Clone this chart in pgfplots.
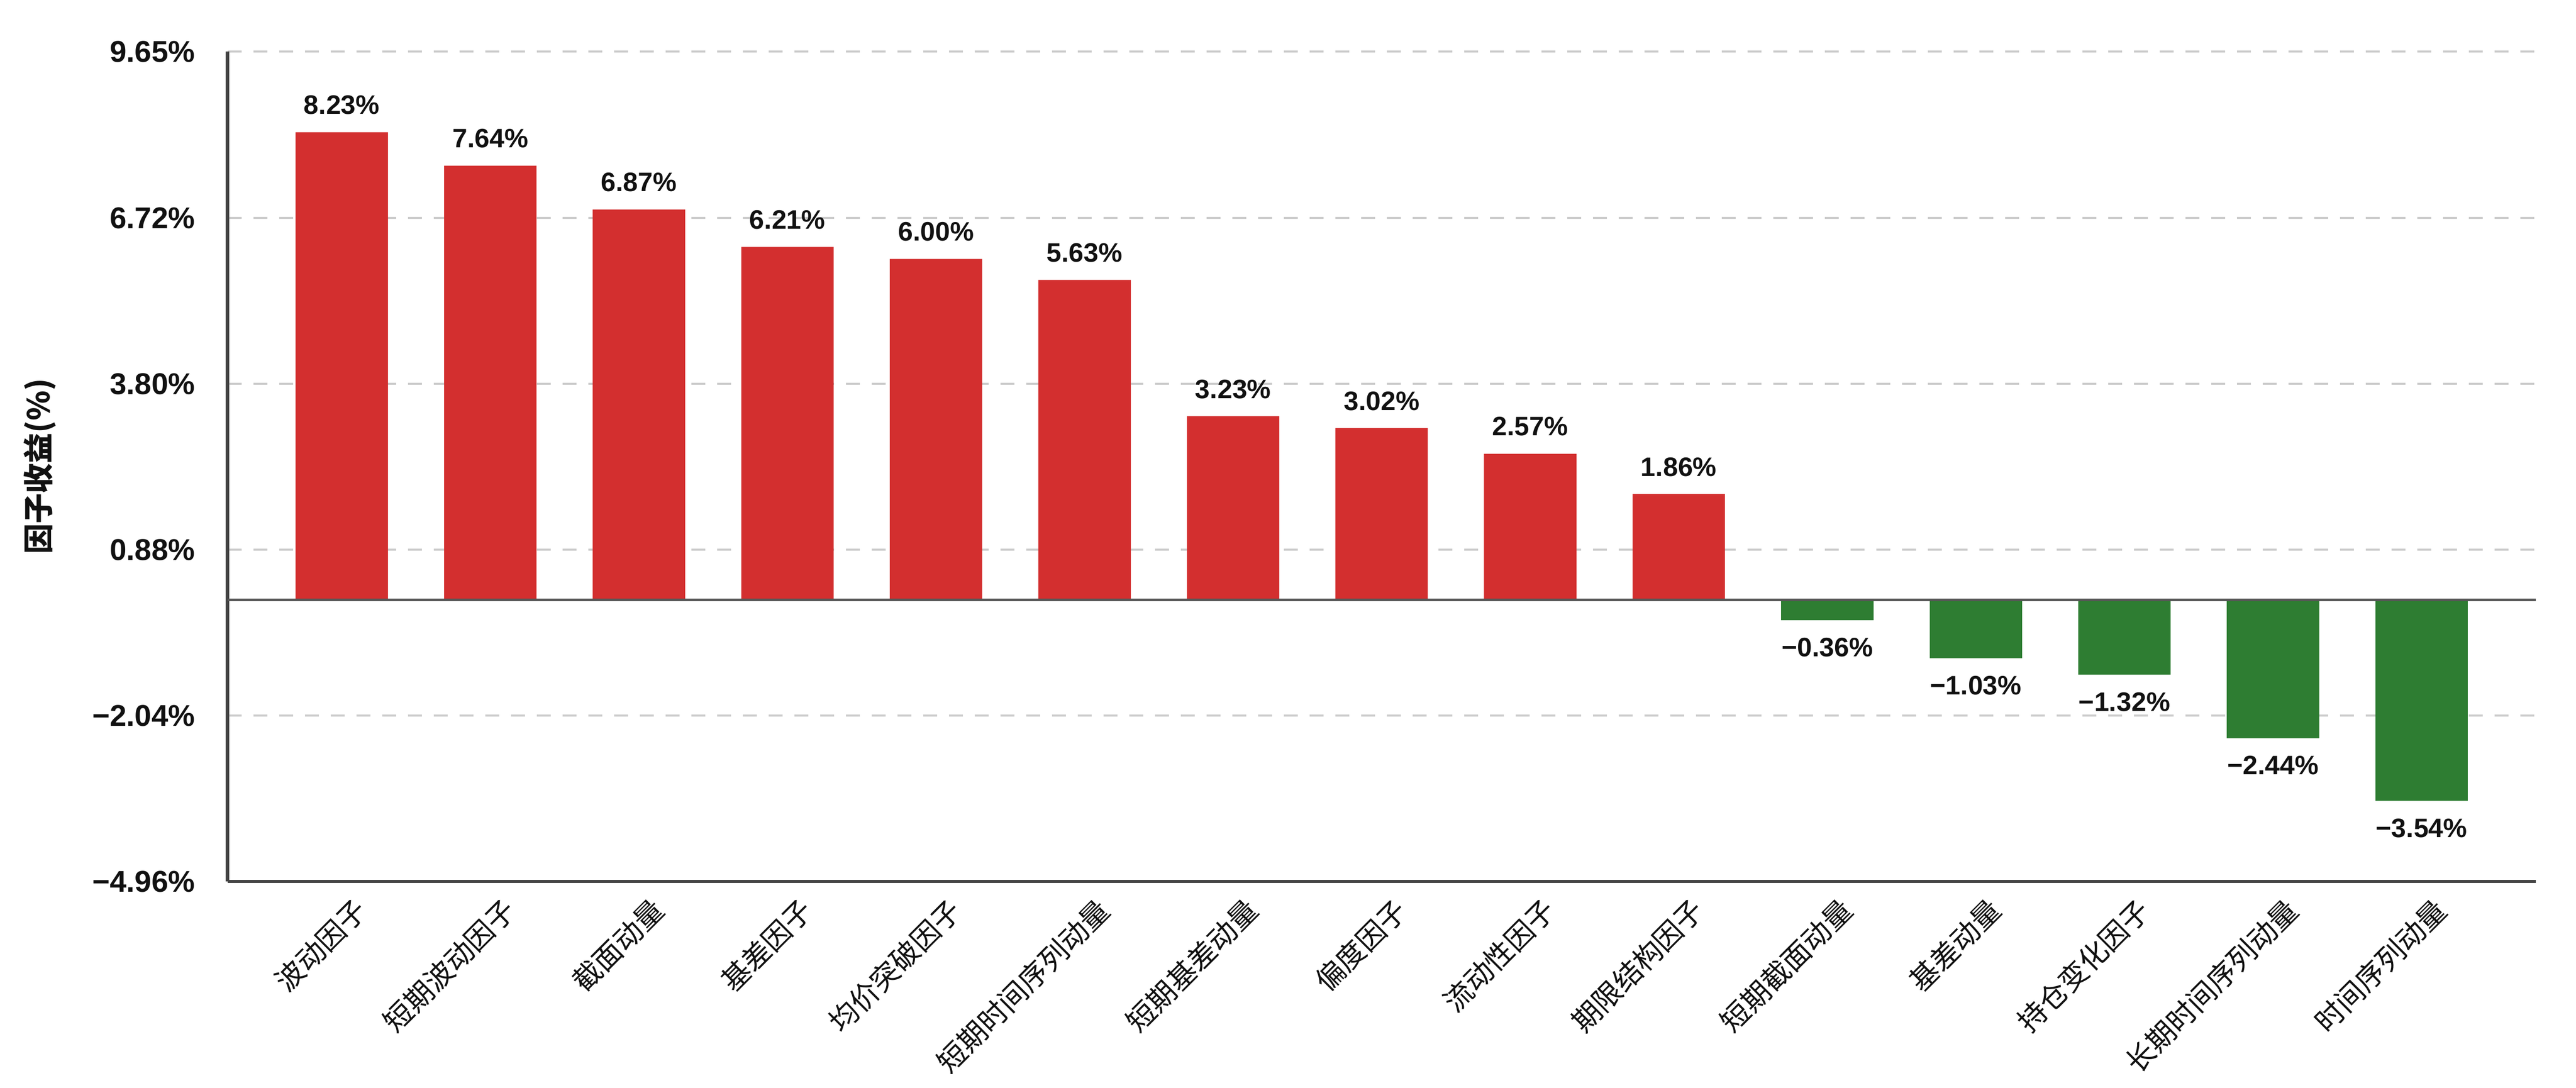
\documentclass[border=0pt]{standalone}
\usepackage{pgfplots}
\pgfplotsset{compat=1.18}
\usepackage{pgfplotstable}
\usepackage{fontspec}
\setmainfont{Liberation Sans}
\newfontfamily\cjk{Noto Sans CJK SC}
\definecolor{barred}{HTML}{D32F2F}
\definecolor{bargreen}{HTML}{2E7D32}
\definecolor{gridgray}{HTML}{CCCCCC}
\definecolor{axisgray}{HTML}{444444}
\definecolor{txt}{HTML}{111111}

\pgfplotstableread{
x y lab
0 8.23 8.23
1 7.64 7.64
2 6.87 6.87
3 6.21 6.21
4 6.00 6.00
5 5.63 5.63
6 3.23 3.23
7 3.02 3.02
8 2.57 2.57
9 1.86 1.86
}\posdata

\pgfplotstableread{
x y lab
10 -0.36 −0.36
11 -1.03 −1.03
12 -1.32 −1.32
13 -2.44 −2.44
14 -3.54 −3.54
}\negdata

\begin{document}
\begin{tikzpicture}
\begin{axis}[
  name=ax,
  at={(0,0)}, anchor=south west,
  scale only axis,
  width=967.8pt, height=348pt,
  xmin=-0.769, xmax=14.77,
  ymin=-4.96, ymax=9.65,
  axis lines*=left,
  axis line style={axisgray, line width=1.4pt},
  ybar, bar width=0.622, bar shift=0pt,
  xtick={0,...,14},
  xticklabels={波动因子,短期波动因子,截面动量,基差因子,均价突破因子,短期时间序列动量,短期基差动量,偏度因子,流动性因子,期限结构因子,短期截面动量,基差动量,持仓变化因子,长期时间序列动量,时间序列动量},
  xticklabel style={font=\cjk\fontsize{12}{12}\selectfont, text=txt, rotate=45, anchor=north east, inner sep=0pt, yshift=-7pt, xshift=-1pt},
  ytick={-4.96,-2.04,0.88,3.80,6.72,9.65},
  yticklabels={−4.96\%,−2.04\%,0.88\%,3.80\%,6.72\%,9.65\%},
  yticklabel style={font=\bfseries\fontsize{12.6}{12.6}\selectfont, text=txt, anchor=east, inner sep=0pt, xshift=-13.4pt},
  major tick length=0pt,
  ymajorgrids,
  major grid style={gridgray, line width=0.8pt, dash pattern=on 6pt off 4.8pt},
  point meta=explicit symbolic,
  nodes near coords={\pgfplotspointmeta\%},
  every node near coord/.append style={font=\bfseries\fontsize{11.2}{11.2}\selectfont, text=txt, inner sep=7.2pt},
  clip=false,
]
\addplot[fill=barred, draw=none, nodes near coords style={anchor=south}] table[x=x, y=y, meta=lab]{\posdata};
\addplot[fill=bargreen, draw=none, nodes near coords style={anchor=north}] table[x=x, y=y, meta=lab]{\negdata};
\draw[axisgray!90, line width=1.1pt] (axis cs:-0.769,0) -- (axis cs:14.77,0);
\end{axis}
\node[rotate=90, font=\cjk\bfseries\fontsize{12.7}{12.7}\selectfont, text=txt] at ([xshift=-78.8pt]ax.west) {因子收益(\%)};
\pgfresetboundingbox
\useasboundingbox ([xshift=-95.4pt, yshift=-86.4pt]ax.south west) rectangle ++(1080pt,456pt);
\end{tikzpicture}
\end{document}
